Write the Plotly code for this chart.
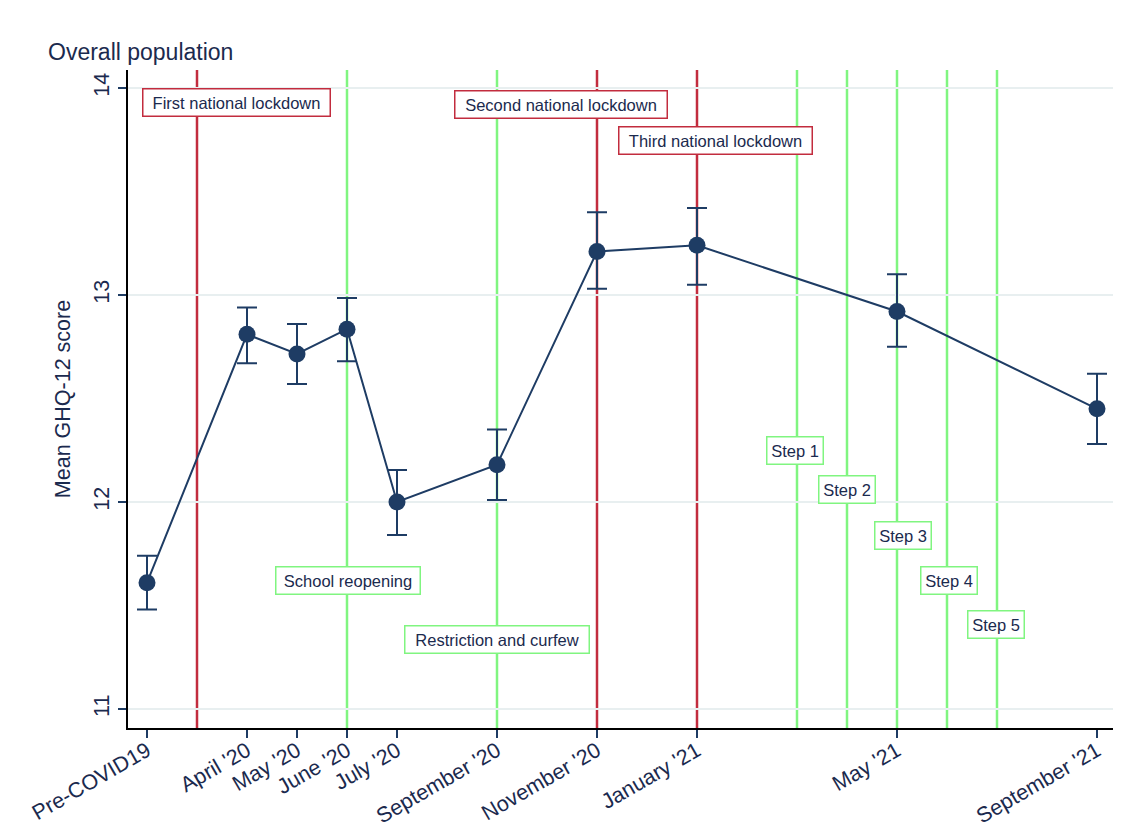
import plotly.graph_objects as go

# ---- data ----
tick_labels = ["Pre-COVID19", "April '20", "May '20", "June '20", "July '20",
               "September '20", "November '20", "January '21", "May '21", "September '21"]
month_pos = [1, 3, 4, 5, 6, 8, 10, 12, 16, 20]
mean_ghq = [11.61, 12.81, 12.715, 12.835, 12.00, 12.18, 13.21, 13.24, 12.92, 12.45]
ci_low = [11.48, 12.67, 12.57, 12.68, 11.84, 12.01, 13.03, 13.05, 12.75, 12.28]
ci_high = [11.74, 12.94, 12.86, 12.985, 12.155, 12.35, 13.40, 13.42, 13.10, 12.62]

lockdown_pos = [2, 10, 12]
lockdown_labels = ["First national lockdown", "Second national lockdown", "Third national lockdown"]
lockdown_label_x = [2.78, 9.27, 12.36]
lockdown_label_y = [13.93, 13.92, 13.745]
lockdown_box_w = [180, 205, 186]

easing_pos = [5, 8, 14, 15, 16, 17, 18]
easing_labels = ["School reopening", "Restriction and curfew", "Step 1", "Step 2", "Step 3", "Step 4", "Step 5"]
easing_label_x = [5.01, 7.99, 13.95, 15.0, 16.11, 17.03, 17.97]
easing_label_y = [11.62, 11.335, 12.25, 12.06, 11.84, 11.62, 11.41]
easing_box_w = [137, 177, 49, 49, 49, 49, 49]

NAVY = "#1e3c64"
TEXT = "#1b2a4e"
RED = "#c22c3e"
GREEN = "#80f580"
FONT = "Liberation Sans, Arial, Helvetica, sans-serif"

fig = go.Figure()
fig.add_trace(go.Scatter(
    x=month_pos, y=mean_ghq, mode="lines+markers",
    line=dict(color=NAVY, width=2),
    marker=dict(color=NAVY, size=17),
    error_y=dict(type="data", symmetric=False,
                 array=[h - m for h, m in zip(ci_high, mean_ghq)],
                 arrayminus=[m - l for m, l in zip(mean_ghq, ci_low)],
                 color=NAVY, thickness=2, width=10),
    showlegend=False,
))

shapes = []
for xp in lockdown_pos:
    shapes.append(dict(type="line", xref="x", yref="paper", x0=xp, x1=xp, y0=0, y1=1,
                       line=dict(color=RED, width=2.5), layer="between"))
for xp in easing_pos:
    shapes.append(dict(type="line", xref="x", yref="paper", x0=xp, x1=xp, y0=0, y1=1,
                       line=dict(color=GREEN, width=2.5), layer="between"))

annotations = []
for t, ax, ay, w in zip(lockdown_labels, lockdown_label_x, lockdown_label_y, lockdown_box_w):
    annotations.append(dict(x=ax, y=ay, xref="x", yref="y", text=t, showarrow=False,
                            font=dict(family=FONT, size=16.5, color=TEXT), width=w, height=20,
                            bgcolor="white", bordercolor=RED, borderwidth=1.5, borderpad=3))
for t, ax, ay, w in zip(easing_labels, easing_label_x, easing_label_y, easing_box_w):
    annotations.append(dict(x=ax, y=ay, xref="x", yref="y", text=t, showarrow=False,
                            font=dict(family=FONT, size=16.5, color=TEXT), width=w, height=20,
                            bgcolor="white", bordercolor=GREEN, borderwidth=1.5, borderpad=3))

fig.update_layout(
    width=1135, height=827,
    margin=dict(l=128, r=22, t=70, b=99),
    paper_bgcolor="white", plot_bgcolor="white",
    font=dict(family=FONT, color=TEXT),
    title=dict(text="Overall population", x=48 / 1135, xanchor="left",
               y=1 - 52 / 827, yanchor="middle",
               font=dict(family=FONT, size=23, color=TEXT)),
    shapes=shapes, annotations=annotations,
    xaxis=dict(range=[0.62, 20.32], tickmode="array", tickvals=month_pos, ticktext=tick_labels,
               tickangle=-30, ticks="outside", ticklen=8, tickcolor=NAVY, tickwidth=1.5,
               ticklabelstandoff=-8,
               showgrid=False, zeroline=False, showline=True, linecolor="black", linewidth=2,
               automargin=False,
               tickfont=dict(family=FONT, size=21.5, color=TEXT)),
    yaxis=dict(range=[10.908, 14.087], tickmode="array", tickvals=[11, 12, 13, 14],
               tickangle=-90, ticks="outside", ticklen=8, tickcolor=NAVY, tickwidth=1.5,
               showgrid=True, gridcolor="#e8eff0", gridwidth=1.5, zeroline=False,
               showline=True, linecolor="black", linewidth=2, automargin=False,
               tickfont=dict(family=FONT, size=21.5, color=TEXT),
               title=dict(text="Mean GHQ-12 score", font=dict(family=FONT, size=21.5, color=TEXT),
                          standoff=14)),
)

fig.write_html("out.html")
